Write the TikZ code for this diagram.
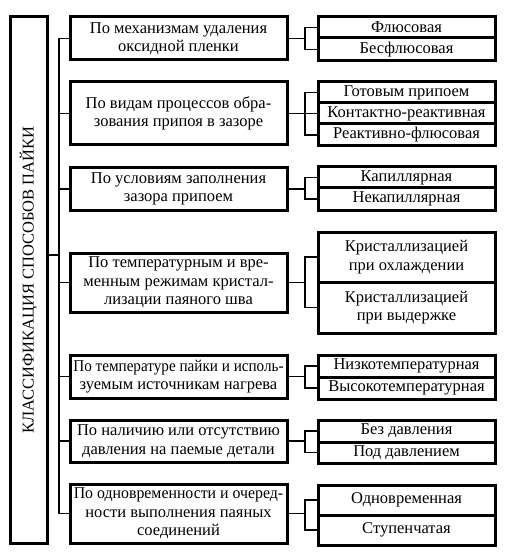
\documentclass[tikz,border=0pt]{standalone}
\usepackage{fontspec}
\setmainfont{Liberation Serif}
\begin{document}
\begin{tikzpicture}[x=1pt,y=-1pt,
  box/.style={draw, line width=3pt, inner sep=0pt, align=center, font=\fontsize{16.5}{18.5}\selectfont},
  mid/.style={box, minimum width=217pt},
  sub/.style={box, minimum width=177pt},
  conn/.style={line width=1.8pt},
]
\useasboundingbox (0,0) rectangle (504,553);
% left box
\node[box, minimum width=37pt, minimum height=526pt] (cls) at (28.5,280) {\rotatebox{90}{КЛАССИФИКАЦИЯ СПОСОБОВ ПАЙКИ}};
% middle boxes
\node[mid, minimum height=43pt] (m1) at (178.5,38.5) {По механизмам удаления\\оксидной пленки};
\node[mid, minimum height=63pt] (m2) at (178.5,113.5) {По видам процессов обра-\\зования припоя в зазоре};
\node[mid, minimum height=42pt] (m3) at (178.5,189) {По условиям заполнения\\зазора припоем};
\node[mid, minimum height=59pt] (m4) at (178.5,282.5) {По температурным и вре-\\менным режимам кристал-\\лизации паяного шва};
\node[mid, minimum height=43pt] (m5) at (178.5,376.5) {\scalebox{0.92}[1]{По температуре пайки и исполь-}\\зуемым источникам нагрева};
\node[mid, minimum height=42pt] (m6) at (178.5,441) {По наличию или отсутствию\\давления на паемые детали};
\node[mid, minimum height=59pt] (m7) at (178.5,513.5) {\scalebox{0.96}[1]{По одновременности и очеред-}\\ности выполнения паяных\\соединений};
% right boxes
\node[sub, minimum height=21pt] (s1a) at (406.5,27.5) {Флюсовая};
\node[sub, minimum height=23pt] (s1b) at (406.5,49.5) {Бесфлюсовая};
\node[sub, minimum height=21pt] (s2a) at (406.5,92.5) {Готовым припоем};
\node[sub, minimum height=21pt] (s2b) at (406.5,113.5) {Контактно-реактивная};
\node[sub, minimum height=22pt] (s2c) at (406.5,135) {Реактивно-флюсовая};
\node[sub, minimum height=21pt] (s3a) at (406.5,177.5) {Капиллярная};
\node[sub, minimum height=22pt] (s3b) at (406.5,199) {Некапиллярная};
\node[sub, minimum height=50pt] (s4a) at (406.5,257) {Кристаллизацией\\при охлаждении};
\node[sub, minimum height=51pt] (s4b) at (406.5,307.5) {Кристаллизацией\\при выдержке};
\node[sub, minimum height=22pt] (s5a) at (406.5,366) {Низкотемпературная};
\node[sub, minimum height=22pt] (s5b) at (406.5,388) {Высокотемпературная};
\node[sub, minimum height=22pt] (s6a) at (406.5,431) {Без давления};
\node[sub, minimum height=21pt] (s6b) at (406.5,452.5) {Под давлением};
\node[sub, minimum height=30pt] (s7a) at (406.5,500) {Одновременная};
\node[sub, minimum height=30pt] (s7b) at (406.5,530) {Ступенчатая};
% connectors
\coordinate (bus) at (59,0);
\coordinate (br) at (305,0);
\coordinate (lc) at (59,255);
\draw[conn] (lc -| cls.east) -- (lc);
\draw[conn] (m1.west -| bus) -- (m7.west -| bus);
\foreach \i in {1,...,7} {
  \draw[conn] (m\i.west -| bus) -- (m\i.west);
  \draw[conn] (m\i.east) -- (m\i.east -| br);
}
\draw[conn] (s1a.west) -- (s1a.west -| br) -- (s1b.west -| br) -- (s1b.west);
\draw[conn] (s2a.west) -- (s2a.west -| br) -- (s2c.west -| br) -- (s2c.west);
\draw[conn] (s2b.west -| br) -- (s2b.west);
\draw[conn] (s3a.west) -- (s3a.west -| br) -- (s3b.west -| br) -- (s3b.west);
\draw[conn] (s4a.west) -- (s4a.west -| br) -- (s4b.west -| br) -- (s4b.west);
\draw[conn] (s5a.west) -- (s5a.west -| br) -- (s5b.west -| br) -- (s5b.west);
\draw[conn] (s6a.west) -- (s6a.west -| br) -- (s6b.west -| br) -- (s6b.west);
\draw[conn] (s7a.west) -- (s7a.west -| br) -- (s7b.west -| br) -- (s7b.west);
\end{tikzpicture}
\end{document}
